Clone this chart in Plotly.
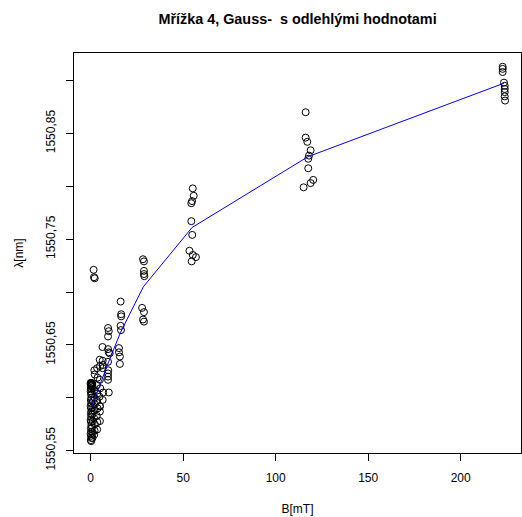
import plotly.graph_objects as go

# Measured shift of the grating peak (Gaussian fit) vs. magnetic field, including outliers
b_field = [
    # B ~ 0
    0.0, 0.2, 0.4, 0.1, 0.3, 0.0, 0.2, 0.4, 0.1, 0.3, 0.0, 0.2, 0.4,
    0.1, 0.3, 0.0, 0.2, 0.4, 0.1, 0.3, 0.0, 0.2, 0.4, 0.1, 0.3,
    0.0, 0.3, 0.5, 0.6, 0.1, 0.5,
    # B ~ 1
    0.9, 1.1, 0.8, 1.2, 1.0, 0.9, 1.1, 0.8, 1.2, 1.0,
    # outliers
    1.6, 1.8, 2.2,
    # B ~ 2
    2.0, 2.2, 1.9, 2.1, 2.3, 2.0, 1.8, 2.2, 2.1, 1.9,
    # B ~ 3.5
    3.5, 3.7, 3.4, 3.6, 3.5, 3.8, 3.3, 3.6, 3.5,
    # B ~ 5
    4.9, 5.1, 5.0, 5.2, 4.8, 5.0, 5.0, 5.0, 5.0,
    # B ~ 6.5
    6.4, 6.5, 6.6, 6.5, 6.8, 6.5,
    # B ~ 9.5
    9.8, 10.3, 9.5, 9.4, 9.4, 9.4, 9.8, 9.4, 9.4, 9.8, 9.4, 9.4,
    # B ~ 16
    16.2, 16.5, 16.5, 16.2, 16.4, 15.3, 15.3, 15.8, 15.8,
    # B ~ 28.5
    28.3, 28.8, 28.8, 28.8, 29.0, 27.8, 28.8, 28.3, 28.8,
    # B ~ 55
    55.2, 55.7, 54.8, 54.4, 54.4, 54.9, 53.4, 55.2, 56.9, 54.6,
    # B ~ 117
    116.2, 116.2, 117.1, 118.9, 118.0, 117.6, 117.6, 120.3, 118.9, 115.1,
    # B ~ 224
    222.7, 222.7, 222.7, 223.4, 223.8, 223.8, 223.8, 223.8, 224.0,
]

wavelength = [
    1550.613, 1550.614, 1550.612, 1550.611, 1550.609, 1550.606, 1550.603,
    1550.600, 1550.598, 1550.595, 1550.592, 1550.590, 1550.587, 1550.585,
    1550.582, 1550.579, 1550.577, 1550.574, 1550.571, 1550.568, 1550.566,
    1550.564, 1550.562, 1550.560, 1550.559,
    1550.614, 1550.613, 1550.612, 1550.614, 1550.608, 1550.611,
    1550.613, 1550.610, 1550.604, 1550.597, 1550.591, 1550.584, 1550.578,
    1550.572, 1550.567, 1550.562,
    1550.721, 1550.714, 1550.713,
    1550.626, 1550.622, 1550.607, 1550.600, 1550.594, 1550.588, 1550.581,
    1550.575, 1550.569, 1550.565,
    1550.628, 1550.619, 1550.612, 1550.604, 1550.597, 1550.590, 1550.583,
    1550.577, 1550.570,
    1550.636, 1550.630, 1550.617, 1550.609, 1550.601, 1550.592, 1550.578,
    1550.587, 1550.592,
    1550.648, 1550.635, 1550.631, 1550.628, 1550.605, 1550.598,
    1550.643, 1550.642, 1550.626, 1550.623, 1550.620, 1550.617, 1550.605,
    1550.634, 1550.666, 1550.663, 1550.658, 1550.646,
    1550.691, 1550.679, 1550.677, 1550.668, 1550.664, 1550.647, 1550.643,
    1550.639, 1550.632,
    1550.731, 1550.729, 1550.720, 1550.717, 1550.715, 1550.685, 1550.681,
    1550.674, 1550.672,
    1550.798, 1550.791, 1550.786, 1550.784, 1550.767, 1550.754, 1550.739,
    1550.735, 1550.733, 1550.729,
    1550.870, 1550.846, 1550.842, 1550.834, 1550.829, 1550.826, 1550.817,
    1550.806, 1550.803, 1550.799,
    1550.913, 1550.911, 1550.908, 1550.898, 1550.895, 1550.892, 1550.889,
    1550.885, 1550.881,
]

# Fitted curve evaluated at the field values
fit_b = [0.0, 1.0, 2.0, 3.5, 5.0, 6.5, 9.5, 16.2, 28.5, 54.8, 117.5, 223.5]
fit_wavelength = [1550.590, 1550.594, 1550.599, 1550.605, 1550.612, 1550.619,
                  1550.633, 1550.662, 1550.705, 1550.761, 1550.828, 1550.8975]

x_ticks = [0, 50, 100, 150, 200]
y_ticks = [1550.55, 1550.60, 1550.65, 1550.70, 1550.75, 1550.80, 1550.85, 1550.90]
y_tick_text = ["1550,55", "", "1550,65", "", "1550,75", "", "1550,85", ""]

fig = go.Figure()
fig.add_trace(go.Scatter(
    x=b_field, y=wavelength, mode="markers",
    marker=dict(symbol="circle-open", size=7, color="black",
                line=dict(color="black", width=1)),
    showlegend=False,
))
fig.add_trace(go.Scatter(
    x=fit_b, y=fit_wavelength, mode="lines",
    line=dict(color="#0000ff", width=1),
    showlegend=False,
))

axis_common = dict(
    showgrid=False, zeroline=False,
    showline=True, linecolor="black", linewidth=1, mirror=True,
    ticks="outside", ticklen=7, tickwidth=1, tickcolor="black",
    tickfont=dict(size=12, color="black"),
)

fig.update_layout(
    width=522, height=517,
    margin=dict(l=74, r=1, t=53, b=64),
    paper_bgcolor="white", plot_bgcolor="white",
    font=dict(family="Liberation Sans, Arial, sans-serif", size=12, color="black"),
    title=dict(
        text="<b>Mřížka 4, Gauss-\u00a0 s odlehlými hodnotami</b>",
        x=0.57, xanchor="center", y=1 - 19 / 517, yanchor="middle",
        font=dict(size=14.4, color="black"),
    ),
    xaxis=dict(
        range=[-9.0, 232.6], tickvals=x_ticks,
        ticktext=[str(v) for v in x_ticks],
        title=dict(text="B[mT]", standoff=20, font=dict(size=12)),
        ticklabelstandoff=7,
        **axis_common,
    ),
    yaxis=dict(
        range=[1550.5478, 1550.926], tickvals=y_ticks, ticktext=y_tick_text,
        tickangle=-90,
        title=dict(text="λ[nm]", standoff=18, font=dict(size=12)),
        ticklabelstandoff=6,
        **axis_common,
    ),
)

fig.write_html("out.html")
